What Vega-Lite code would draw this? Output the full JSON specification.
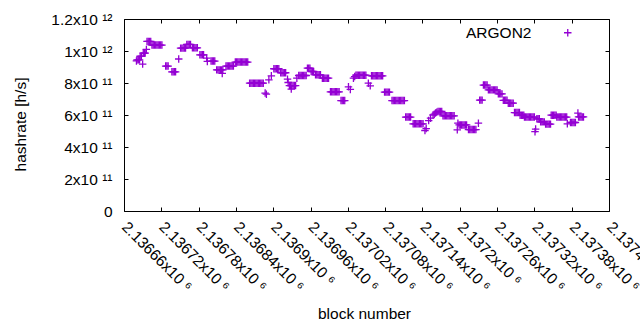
{
 "$schema": "https://vega.github.io/schema/vega-lite/v6.json",
 "width": 485, "height": 192,
 "autosize": {"type": "none"},
 "padding": {"left": 124, "top": 19, "right": 31, "bottom": 119},
 "background": "white",
 "config": {"view": {"stroke": "#000", "strokeWidth": 1}, "font": "Liberation Sans"},
 "data": {"values": [
  {"block":2136680,"hashrate":9.38e11},{"block":2136681,"hashrate":9.45e11},{"block":2136683,"hashrate":9.45e11},{"block":2136685,"hashrate":9.45e11},
  {"block":2136686,"hashrate":9.68e11},{"block":2136688,"hashrate":9.68e11},{"block":2136690,"hashrate":9.18e11},
  {"block":2136691,"hashrate":9.87e11},{"block":2136693,"hashrate":9.87e11},{"block":2136694,"hashrate":9.87e11},
  {"block":2136696,"hashrate":1.01e12},
  {"block":2136697,"hashrate":1.06e12},{"block":2136699,"hashrate":1.06e12},{"block":2136701,"hashrate":1.06e12},{"block":2136703,"hashrate":1.06e12},
  {"block":2136705,"hashrate":1.037e12},{"block":2136707,"hashrate":1.037e12},{"block":2136709,"hashrate":1.037e12},{"block":2136711,"hashrate":1.037e12},{"block":2136713,"hashrate":1.037e12},{"block":2136715,"hashrate":1.037e12},{"block":2136717,"hashrate":1.037e12},{"block":2136719,"hashrate":1.037e12},{"block":2136721,"hashrate":1.037e12},
  {"block":2136727,"hashrate":9.06e11},{"block":2136729,"hashrate":9.06e11},{"block":2136731,"hashrate":9.06e11},
  {"block":2136737,"hashrate":8.7e11},{"block":2136739,"hashrate":8.7e11},{"block":2136741,"hashrate":8.7e11},{"block":2136743,"hashrate":8.7e11},
  {"block":2136748,"hashrate":9.5e11},
  {"block":2136751,"hashrate":1.018e12},{"block":2136753,"hashrate":1.018e12},{"block":2136755,"hashrate":1.018e12},{"block":2136757,"hashrate":1.018e12},{"block":2136759,"hashrate":1.018e12},
  {"block":2136761,"hashrate":1.041e12},{"block":2136763,"hashrate":1.041e12},{"block":2136765,"hashrate":1.041e12},{"block":2136767,"hashrate":1.041e12},
  {"block":2136770,"hashrate":1.02e12},{"block":2136772,"hashrate":1.02e12},{"block":2136774,"hashrate":1.02e12},{"block":2136776,"hashrate":1.02e12},{"block":2136778,"hashrate":1.02e12},
  {"block":2136782,"hashrate":9.76e11},{"block":2136784,"hashrate":9.76e11},{"block":2136786,"hashrate":9.76e11},{"block":2136788,"hashrate":9.76e11},
  {"block":2136793,"hashrate":9.56e11},{"block":2136794,"hashrate":9.35e11},
  {"block":2136800,"hashrate":9.37e11},{"block":2136802,"hashrate":9.37e11},{"block":2136804,"hashrate":9.37e11},{"block":2136806,"hashrate":9.37e11},
  {"block":2136809,"hashrate":8.82e11},{"block":2136811,"hashrate":8.82e11},{"block":2136813,"hashrate":8.82e11},{"block":2136815,"hashrate":8.82e11},{"block":2136817,"hashrate":8.82e11},{"block":2136819,"hashrate":8.82e11},
  {"block":2136818,"hashrate":8.6e11},
  {"block":2136824,"hashrate":9.06e11},{"block":2136826,"hashrate":9.06e11},{"block":2136828,"hashrate":9.06e11},{"block":2136830,"hashrate":9.06e11},{"block":2136832,"hashrate":9.06e11},{"block":2136834,"hashrate":9.06e11},{"block":2136836,"hashrate":9.06e11},
  {"block":2136839,"hashrate":9.31e11},{"block":2136841,"hashrate":9.31e11},{"block":2136843,"hashrate":9.31e11},{"block":2136845,"hashrate":9.31e11},{"block":2136847,"hashrate":9.31e11},{"block":2136849,"hashrate":9.31e11},{"block":2136851,"hashrate":9.31e11},{"block":2136853,"hashrate":9.31e11},{"block":2136855,"hashrate":9.31e11},{"block":2136857,"hashrate":9.31e11},{"block":2136859,"hashrate":9.31e11},
  {"block":2136862,"hashrate":7.99e11},{"block":2136864,"hashrate":7.99e11},{"block":2136866,"hashrate":7.99e11},{"block":2136868,"hashrate":7.99e11},{"block":2136870,"hashrate":7.99e11},{"block":2136872,"hashrate":7.99e11},{"block":2136874,"hashrate":7.99e11},{"block":2136876,"hashrate":7.99e11},{"block":2136878,"hashrate":7.99e11},{"block":2136880,"hashrate":7.99e11},{"block":2136882,"hashrate":7.99e11},{"block":2136884,"hashrate":7.99e11},
  {"block":2136887,"hashrate":7.37e11},{"block":2136889,"hashrate":7.3e11},
  {"block":2136893,"hashrate":8.2e11},{"block":2136897,"hashrate":8.45e11},
  {"block":2136901,"hashrate":8.89e11},{"block":2136903,"hashrate":8.89e11},{"block":2136905,"hashrate":8.89e11},{"block":2136907,"hashrate":8.89e11},{"block":2136909,"hashrate":8.89e11},
  {"block":2136912,"hashrate":8.64e11},{"block":2136914,"hashrate":8.64e11},{"block":2136916,"hashrate":8.64e11},{"block":2136918,"hashrate":8.64e11},{"block":2136920,"hashrate":8.64e11},
  {"block":2136923,"hashrate":8.24e11},{"block":2136924,"hashrate":8.03e11},
  {"block":2136926,"hashrate":7.84e11},{"block":2136928,"hashrate":7.84e11},{"block":2136930,"hashrate":7.84e11},{"block":2136932,"hashrate":7.84e11},{"block":2136934,"hashrate":7.84e11},{"block":2136936,"hashrate":7.84e11},
  {"block":2136929,"hashrate":7.62e11},{"block":2136938,"hashrate":8.3e11},
  {"block":2136941,"hashrate":8.47e11},{"block":2136943,"hashrate":8.47e11},{"block":2136945,"hashrate":8.47e11},{"block":2136947,"hashrate":8.47e11},{"block":2136949,"hashrate":8.47e11},{"block":2136951,"hashrate":8.47e11},{"block":2136953,"hashrate":8.47e11},
  {"block":2136955,"hashrate":8.93e11},{"block":2136957,"hashrate":8.93e11},{"block":2136959,"hashrate":8.93e11},
  {"block":2136961,"hashrate":8.72e11},{"block":2136963,"hashrate":8.72e11},{"block":2136965,"hashrate":8.72e11},
  {"block":2136968,"hashrate":8.51e11},{"block":2136970,"hashrate":8.51e11},{"block":2136972,"hashrate":8.51e11},{"block":2136974,"hashrate":8.51e11},{"block":2136976,"hashrate":8.51e11},
  {"block":2136979,"hashrate":8.3e11},{"block":2136981,"hashrate":8.3e11},{"block":2136983,"hashrate":8.3e11},{"block":2136985,"hashrate":8.3e11},{"block":2136987,"hashrate":8.3e11},{"block":2136989,"hashrate":8.3e11},
  {"block":2136992,"hashrate":7.45e11},{"block":2136994,"hashrate":7.45e11},{"block":2136996,"hashrate":7.45e11},{"block":2136998,"hashrate":7.45e11},{"block":2137000,"hashrate":7.45e11},{"block":2137002,"hashrate":7.45e11},{"block":2137004,"hashrate":7.45e11},{"block":2137006,"hashrate":7.45e11},
  {"block":2137009,"hashrate":6.9e11},{"block":2137011,"hashrate":6.9e11},{"block":2137013,"hashrate":6.9e11},{"block":2137015,"hashrate":6.9e11},
  {"block":2137021,"hashrate":7.76e11},{"block":2137024,"hashrate":7.6e11},
  {"block":2137029,"hashrate":8.3e11},{"block":2137031,"hashrate":8.4e11},
  {"block":2137033,"hashrate":8.49e11},{"block":2137035,"hashrate":8.49e11},{"block":2137037,"hashrate":8.49e11},{"block":2137039,"hashrate":8.49e11},{"block":2137041,"hashrate":8.49e11},{"block":2137043,"hashrate":8.49e11},{"block":2137045,"hashrate":8.49e11},{"block":2137047,"hashrate":8.49e11},{"block":2137049,"hashrate":8.49e11},
  {"block":2137053,"hashrate":7.99e11},{"block":2137056,"hashrate":7.82e11},
  {"block":2137058,"hashrate":8.45e11},{"block":2137060,"hashrate":8.45e11},{"block":2137062,"hashrate":8.45e11},{"block":2137064,"hashrate":8.45e11},{"block":2137066,"hashrate":8.45e11},{"block":2137068,"hashrate":8.45e11},{"block":2137070,"hashrate":8.45e11},{"block":2137072,"hashrate":8.45e11},{"block":2137074,"hashrate":8.45e11},{"block":2137076,"hashrate":8.45e11},
  {"block":2137079,"hashrate":7.43e11},{"block":2137081,"hashrate":7.43e11},{"block":2137083,"hashrate":7.43e11},{"block":2137085,"hashrate":7.43e11},{"block":2137087,"hashrate":7.43e11},
  {"block":2137091,"hashrate":6.9e11},{"block":2137093,"hashrate":6.9e11},{"block":2137095,"hashrate":6.9e11},{"block":2137097,"hashrate":6.9e11},{"block":2137099,"hashrate":6.9e11},{"block":2137101,"hashrate":6.9e11},{"block":2137103,"hashrate":6.9e11},{"block":2137105,"hashrate":6.9e11},{"block":2137107,"hashrate":6.9e11},{"block":2137109,"hashrate":6.9e11},{"block":2137111,"hashrate":6.9e11},
  {"block":2137113,"hashrate":5.87e11},{"block":2137115,"hashrate":5.87e11},{"block":2137117,"hashrate":5.87e11},{"block":2137119,"hashrate":5.87e11},{"block":2137121,"hashrate":5.87e11},
  {"block":2137125,"hashrate":5.45e11},{"block":2137127,"hashrate":5.45e11},{"block":2137129,"hashrate":5.45e11},{"block":2137131,"hashrate":5.45e11},{"block":2137133,"hashrate":5.45e11},{"block":2137135,"hashrate":5.45e11},{"block":2137137,"hashrate":5.45e11},{"block":2137139,"hashrate":5.45e11},{"block":2137141,"hashrate":5.45e11},
  {"block":2137144,"hashrate":5.03e11},{"block":2137146,"hashrate":5.15e11},
  {"block":2137150,"hashrate":5.65e11},{"block":2137153,"hashrate":5.8e11},
  {"block":2137157,"hashrate":6.0e11},{"block":2137159,"hashrate":6.05e11},{"block":2137161,"hashrate":6.12e11},{"block":2137163,"hashrate":6.18e11},
  {"block":2137165,"hashrate":6.22e11},{"block":2137167,"hashrate":6.22e11},{"block":2137169,"hashrate":6.22e11},{"block":2137171,"hashrate":6.22e11},
  {"block":2137173,"hashrate":5.95e11},{"block":2137175,"hashrate":5.95e11},{"block":2137177,"hashrate":5.95e11},{"block":2137179,"hashrate":5.95e11},{"block":2137181,"hashrate":5.95e11},{"block":2137183,"hashrate":5.95e11},{"block":2137185,"hashrate":5.95e11},{"block":2137187,"hashrate":5.95e11},{"block":2137189,"hashrate":5.95e11},{"block":2137191,"hashrate":5.95e11},
  {"block":2137196,"hashrate":5.07e11},{"block":2137197,"hashrate":5.49e11},
  {"block":2137199,"hashrate":5.38e11},{"block":2137201,"hashrate":5.38e11},{"block":2137203,"hashrate":5.38e11},{"block":2137205,"hashrate":5.38e11},{"block":2137207,"hashrate":5.38e11},{"block":2137209,"hashrate":5.38e11},{"block":2137211,"hashrate":5.38e11},
  {"block":2137214,"hashrate":5.09e11},{"block":2137216,"hashrate":5.09e11},{"block":2137218,"hashrate":5.09e11},{"block":2137220,"hashrate":5.09e11},{"block":2137222,"hashrate":5.09e11},{"block":2137224,"hashrate":5.09e11},{"block":2137226,"hashrate":5.09e11},
  {"block":2137230,"hashrate":5.49e11},
  {"block":2137232,"hashrate":6.93e11},{"block":2137234,"hashrate":6.93e11},{"block":2137236,"hashrate":6.93e11},
  {"block":2137238,"hashrate":7.87e11},{"block":2137240,"hashrate":7.87e11},{"block":2137242,"hashrate":7.87e11},{"block":2137244,"hashrate":7.87e11},
  {"block":2137246,"hashrate":7.57e11},{"block":2137248,"hashrate":7.57e11},{"block":2137250,"hashrate":7.57e11},{"block":2137252,"hashrate":7.57e11},{"block":2137254,"hashrate":7.57e11},{"block":2137256,"hashrate":7.57e11},{"block":2137258,"hashrate":7.57e11},{"block":2137260,"hashrate":7.57e11},
  {"block":2137262,"hashrate":7.32e11},{"block":2137264,"hashrate":7.32e11},{"block":2137266,"hashrate":7.32e11},{"block":2137268,"hashrate":7.32e11},
  {"block":2137270,"hashrate":6.92e11},{"block":2137272,"hashrate":6.92e11},{"block":2137274,"hashrate":6.92e11},{"block":2137276,"hashrate":6.92e11},
  {"block":2137278,"hashrate":6.74e11},{"block":2137280,"hashrate":6.74e11},{"block":2137282,"hashrate":6.74e11},{"block":2137284,"hashrate":6.74e11},{"block":2137286,"hashrate":6.74e11},
  {"block":2137288,"hashrate":6.15e11},{"block":2137290,"hashrate":6.15e11},{"block":2137292,"hashrate":6.15e11},{"block":2137294,"hashrate":6.15e11},{"block":2137296,"hashrate":6.15e11},
  {"block":2137297,"hashrate":5.99e11},{"block":2137299,"hashrate":5.99e11},{"block":2137301,"hashrate":5.99e11},{"block":2137303,"hashrate":5.99e11},
  {"block":2137304,"hashrate":5.87e11},{"block":2137306,"hashrate":5.87e11},{"block":2137308,"hashrate":5.87e11},{"block":2137310,"hashrate":5.87e11},{"block":2137312,"hashrate":5.87e11},{"block":2137314,"hashrate":5.87e11},{"block":2137316,"hashrate":5.87e11},{"block":2137318,"hashrate":5.87e11},{"block":2137320,"hashrate":5.87e11},
  {"block":2137321,"hashrate":4.96e11},{"block":2137322,"hashrate":5.12e11},
  {"block":2137324,"hashrate":5.76e11},{"block":2137326,"hashrate":5.76e11},{"block":2137328,"hashrate":5.76e11},
  {"block":2137330,"hashrate":5.57e11},{"block":2137332,"hashrate":5.57e11},{"block":2137334,"hashrate":5.57e11},{"block":2137336,"hashrate":5.57e11},
  {"block":2137338,"hashrate":5.43e11},{"block":2137340,"hashrate":5.43e11},{"block":2137342,"hashrate":5.43e11},{"block":2137344,"hashrate":5.43e11},{"block":2137346,"hashrate":5.43e11},
  {"block":2137347,"hashrate":5.99e11},{"block":2137349,"hashrate":5.99e11},{"block":2137351,"hashrate":5.99e11},{"block":2137353,"hashrate":5.99e11},{"block":2137355,"hashrate":5.99e11},
  {"block":2137356,"hashrate":5.87e11},{"block":2137358,"hashrate":5.87e11},{"block":2137360,"hashrate":5.87e11},{"block":2137362,"hashrate":5.87e11},{"block":2137364,"hashrate":5.87e11},{"block":2137366,"hashrate":5.87e11},{"block":2137368,"hashrate":5.87e11},{"block":2137370,"hashrate":5.87e11},{"block":2137372,"hashrate":5.87e11},
  {"block":2137373,"hashrate":5.45e11},
  {"block":2137378,"hashrate":5.53e11},{"block":2137380,"hashrate":5.53e11},{"block":2137382,"hashrate":5.53e11},{"block":2137384,"hashrate":5.53e11},{"block":2137386,"hashrate":5.53e11},
  {"block":2137390,"hashrate":6.12e11},
  {"block":2137391,"hashrate":5.88e11},{"block":2137393,"hashrate":5.88e11},{"block":2137395,"hashrate":5.88e11},{"block":2137397,"hashrate":5.88e11},{"block":2137399,"hashrate":5.88e11}
 ]},
 "layer": [
  {
   "mark": {"type": "point", "shape": "M-1,0H1M0,-1V1", "size": 56, "strokeWidth": 1.3, "filled": false, "opacity": 1},
   "encoding": {
    "x": {"field": "block", "type": "quantitative",
      "scale": {"domain": [2136660, 2137440], "nice": false, "zero": false},
      "axis": {"orient": "bottom", "values": [2136660,2136720,2136780,2136840,2136900,2136960,2137020,2137080,2137140,2137200,2137260,2137320,2137380,2137440],
        "labelExpr": "format(datum.value/1e6, '.6~g') + 'x10 ⁶'",
        "labelAngle": 45, "labelAlign": "left", "labelBaseline": "top", "labelPadding": 12, "labelOffset": 5,
        "labelFontSize": 15.5, "labelColor": "#000", "labelOverlap": false, "labelFlush": false, "labelBound": false,
        "tickSize": -4, "tickColor": "#000", "domain": false, "grid": false,
        "title": "block number", "titleFontSize": 15.5, "titleFontWeight": "normal", "titleColor": "#000",
        "titleX": 240, "titleY": 102, "titleAlign": "center", "titleBaseline": "middle"}},
    "y": {"field": "hashrate", "type": "quantitative",
      "scale": {"domain": [0, 1.2e12], "nice": false},
      "axis": {"orient": "left", "values": [0, 2e11, 4e11, 6e11, 8e11, 1e12, 1.2e12],
        "labelExpr": "datum.value == 0 ? '0' : (datum.value < 9e11 ? format(datum.value/1e11, '.0f') + 'x10 ¹¹' : format(datum.value/1e12, '~g') + 'x10 ¹²')",
        "labelFontSize": 15.5, "labelColor": "#000", "labelPadding": 16, "labelOverlap": false, "labelFlush": false, "labelBound": false,
        "tickSize": -4, "tickColor": "#000", "domain": false, "grid": false,
        "title": "hashrate [h/s]", "titleFontSize": 15.5, "titleFontWeight": "normal", "titleColor": "#000",
        "titleX": -103.5, "titleY": 105, "titleAlign": "center", "titleBaseline": "middle", "titleAngle": -90}},
    "color": {"datum": "ARGON2", "type": "nominal", "scale": {"range": ["#9400d3"]},
      "legend": {"title": null, "orient": "none", "legendX": 436, "legendY": 6, "padding": 0,
        "labelAlign": "right", "labelOffset": -44, "labelFontSize": 15.5, "labelColor": "#000",
        "symbolType": "M-1,0H1M0,-1V1", "symbolSize": 56, "symbolStrokeWidth": 1.3, "symbolStrokeColor": "#9400d3", "symbolFillColor": "transparent"}}
   }
  },
  {
   "mark": {"type": "point", "opacity": 0},
   "encoding": {
    "x": {"field": "block", "type": "quantitative",
      "axis": {"orient": "top", "values": [2136660,2136720,2136780,2136840,2136900,2136960,2137020,2137080,2137140,2137200,2137260,2137320,2137380,2137440],
        "labels": false, "tickSize": -4, "tickColor": "#000", "domain": false, "grid": false, "title": null}},
    "y": {"field": "hashrate", "type": "quantitative",
      "axis": {"orient": "right", "values": [0, 2e11, 4e11, 6e11, 8e11, 1e12, 1.2e12],
        "labels": false, "tickSize": -4, "tickColor": "#000", "domain": false, "grid": false, "title": null}}
   }
  }
 ],
 "resolve": {"axis": {"x": "independent", "y": "independent"}}
}
